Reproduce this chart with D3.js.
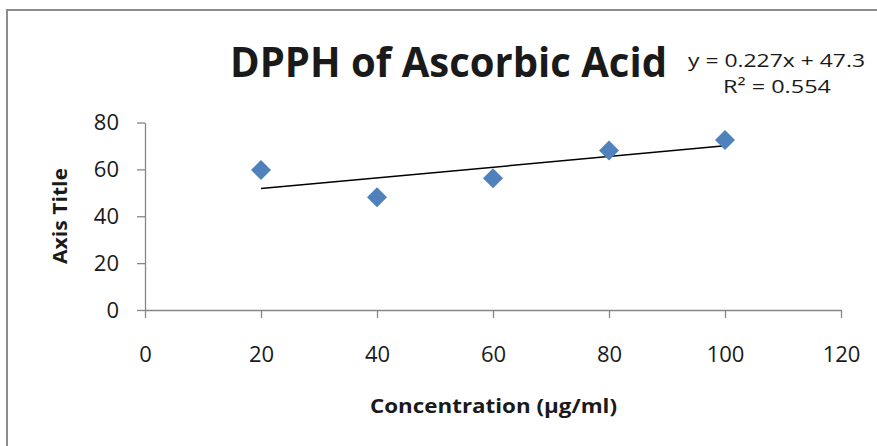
<!DOCTYPE html>
<html>
<head>
<meta charset="utf-8">
<script src="https://cdn.jsdelivr.net/npm/d3@7"></script>
<style>
  html, body { margin: 0; padding: 0; background: #ffffff; }
  svg { display: block; }
  text { font-family: "Open Sans", "DejaVu Sans", sans-serif; fill: #1a1a1a; }
</style>
</head>
<body>
<svg id="chart" width="877" height="446"></svg>
<script>
// ---- data ----
const concentrations = [20, 40, 60, 80, 100];
const inhibition = [59.7, 48.1, 56.2, 68.1, 72.5];
const xTicks = [0, 20, 40, 60, 80, 100, 120];
const yTicks = [0, 20, 40, 60, 80];
const chartTitle = "DPPH of Ascorbic Acid";
const xAxisTitle = "Concentration (µg/ml)";
const yAxisTitle = "Axis Title";
const equationText = "y = 0.227x + 47.3";
const r2Text = "R² = 0.554";

// ---- layout ----
const svg = d3.select("#chart");
const W = 877, H = 446;
const plot = { left: 145, right: 841, top: 122.5, bottom: 310 };
const axisColor = "#868686";

svg.append("rect").attr("width", W).attr("height", H).attr("fill", "#fff");
// outer chart frame (extends past the window on right/bottom)
svg.append("rect")
  .attr("x", 7).attr("y", 10).attr("width", 900).attr("height", 500)
  .attr("fill", "none").attr("stroke", "#8c8c8c").attr("stroke-width", 2);

const x = d3.scaleLinear().domain([0, 120]).range([plot.left, plot.right]);
const y = d3.scaleLinear().domain([0, 80]).range([plot.bottom, plot.top]);

// y axis
const gy = svg.append("g")
  .attr("transform", `translate(${plot.left},0)`)
  .call(d3.axisLeft(y).tickValues(yTicks).tickSize(8).tickSizeOuter(0).tickPadding(18));
// x axis
const gx = svg.append("g")
  .attr("transform", `translate(0,${plot.bottom})`)
  .call(d3.axisBottom(x).tickValues(xTicks).tickSize(8).tickSizeOuter(0).tickPadding(28));

[gx, gy].forEach(g => {
  g.select(".domain").attr("stroke", axisColor).attr("stroke-width", 1.3);
  g.selectAll(".tick line").attr("stroke", axisColor).attr("stroke-width", 1.3);
  g.selectAll(".tick text")
    .attr("fill", "#1a1a1a")
    .style("font-family", '"Open Sans", sans-serif')
    .style("font-size", "22px");
});

// trendline (least squares from data)
const n = concentrations.length;
const mx = d3.mean(concentrations), my = d3.mean(inhibition);
let sxy = 0, sxx = 0;
for (let i = 0; i < n; i++) {
  sxy += (concentrations[i] - mx) * (inhibition[i] - my);
  sxx += (concentrations[i] - mx) ** 2;
}
const slope = sxy / sxx, intercept = my - slope * mx;
const xs = d3.extent(concentrations);
svg.append("line")
  .attr("x1", x(xs[0])).attr("y1", y(slope * xs[0] + intercept))
  .attr("x2", x(xs[1])).attr("y2", y(slope * xs[1] + intercept))
  .attr("stroke", "#000").attr("stroke-width", 1.5);

// markers (diamonds)
const diamond = d3.symbol().type(d3.symbolSquare).size(200);
svg.append("g").selectAll("path")
  .data(concentrations.map((c, i) => [c, inhibition[i]]))
  .join("path")
  .attr("d", diamond)
  .attr("transform", d => `translate(${x(d[0])},${y(d[1])}) rotate(45)`)
  .attr("fill", "#4F81BD");

// title
svg.append("text")
  .attr("x", 230).attr("y", 77)
  .attr("textLength", 437).attr("lengthAdjust", "spacingAndGlyphs")
  .style("font-size", "41px").style("font-weight", "bold")
  .text(chartTitle);

// equation
svg.append("text")
  .attr("x", 688).attr("y", 67)
  .attr("textLength", 177).attr("lengthAdjust", "spacingAndGlyphs")
  .style("font-size", "19px")
  .text(equationText);
svg.append("text")
  .attr("x", 723).attr("y", 93)
  .attr("textLength", 108).attr("lengthAdjust", "spacingAndGlyphs")
  .style("font-size", "19px")
  .text(r2Text);

// axis titles
svg.append("text")
  .attr("x", 370).attr("y", 413)
  .attr("textLength", 247).attr("lengthAdjust", "spacingAndGlyphs")
  .style("font-size", "20px").style("font-weight", "bold")
  .text(xAxisTitle);
svg.append("text")
  .attr("transform", "translate(67,264) rotate(-90)")
  .attr("textLength", 96).attr("lengthAdjust", "spacingAndGlyphs")
  .style("font-size", "20px").style("font-weight", "bold")
  .text(yAxisTitle);
</script>
</body>
</html>
